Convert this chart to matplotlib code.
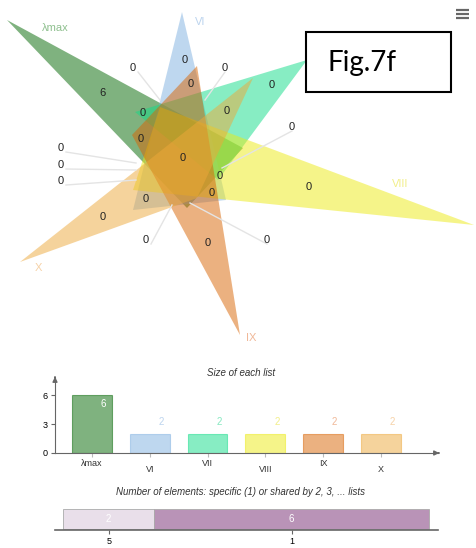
import matplotlib
matplotlib.use("Agg")
import matplotlib.pyplot as plt
from matplotlib.patches import Polygon, Rectangle

plt.rcParams["font.family"] = ["Liberation Sans", "DejaVu Sans"]

# ---- data ----
lists = ["λmax", "VI", "VII", "VIII", "IX", "X"]
list_sizes = [6, 2, 2, 2, 2, 2]
base_colors = ["#006600", "#7fb0e0", "#10dc88", "#ecea14", "#d96402", "#eda83a"]

share_degree = ["5", "1"]          # shared by 5 lists / specific to 1 list
share_counts = [2, 6]
share_colors = ["#e9dfea", "#b993b7"]

# region counts with label position and optional leader-line anchor
region_counts = [6, 0, 0, 0, 0, 0, 0, 0, 0, 0, 0, 0, 0, 0, 0, 0, 0, 0, 0, 0, 0, 0]
region_label_xy = [(102, 93), (133, 68), (185, 60), (191, 84), (225, 68), (272, 85),
                   (143, 113), (227, 111), (292, 127), (141, 139), (61, 148), (61, 165),
                   (61, 181), (183, 158), (220, 176), (212, 193), (309, 187), (146, 199),
                   (103, 217), (146, 240), (208, 243), (267, 240)]
region_leader = {1: (160, 100), 4: (205, 100), 8: (222, 168), 10: (136, 163),
                 11: (136, 170), 12: (136, 180), 19: (172, 205), 21: (190, 203)}

# triangle outlines (pixel layout of the six-set diagram)
triangles = [
    [(7, 20), (243, 148), (187, 208)],
    [(182, 12), (133, 210), (226, 200)],
    [(307, 60), (135, 112), (218, 180)],
    [(474, 225), (160, 107), (133, 190)],
    [(240, 335), (132, 135), (197, 66)],
    [(20, 262), (253, 78), (197, 198)],
]
name_xy = [(55, 28), (200, 22), (307, 60), (400, 184), (251, 338), (38, 268)]
name_colors = ["#8fc08f", "#bcd4ee", "#86e8c0", "#f2ef8a", "#f0b898", "#f6d2a8"]

W, H = 476, 548
fig = plt.figure(figsize=(W / 100, H / 100), dpi=100)
ax = fig.add_axes([0, 0, 1, 1])
ax.set_xlim(0, W)
ax.set_ylim(H, 0)
ax.axis("off")

# ---- six-set diagram ----
for tri, col in zip(triangles, base_colors):
    ax.add_patch(Polygon(tri, closed=True, facecolor=col, alpha=0.5, edgecolor="none"))

for i, (name, (x, y)) in enumerate(zip(lists, name_xy)):
    if name == "VII":
        continue
    ax.text(x, y, name, color=name_colors[i], fontsize=8, ha="center", va="center")

for i, (cnt, (x, y)) in enumerate(zip(region_counts, region_label_xy)):
    if i in region_leader:
        lx, ly = region_leader[i]
        ax.plot([x + 5 if lx > x else x, lx], [y + 4, ly], color="#e4e4e4", lw=1, zorder=1)
    ax.text(x, y, str(cnt), fontsize=8, ha="center", va="center", color="#222222", zorder=3)

# caption box
ax.add_patch(Rectangle((306, 32), 145, 60, facecolor="white", edgecolor="black", lw=1.5, zorder=4))
ax.text(327, 63, "Fig.7f", fontsize=20, ha="left", va="center", family="Lato", zorder=5)

# menu icon
for yy in (10, 14, 18):
    ax.plot([456, 469], [yy, yy], color="#666666", lw=1.6, solid_capstyle="butt")

# ---- list sizes bar chart ----
def px_axes(x0, y0, x1, y1):
    return fig.add_axes([x0 / W, 1 - y1 / H, (x1 - x0) / W, (y1 - y0) / H])

ax.text(241, 373, "Size of each list", fontsize=7, style="italic", ha="center", va="center",
        color="#333333")
bx = px_axes(55, 378, 438, 453)
pos = list(range(len(lists)))
bars = bx.bar(pos, list_sizes, width=0.69, color=base_colors, alpha=0.5,
              edgecolor=base_colors, linewidth=0.8)
bx.set_xlim(-0.64, 5.99)
bx.set_ylim(0, 7.76)
for s in ("top", "right"):
    bx.spines[s].set_visible(False)
bx.spines["left"].set_color("#666666")
bx.spines["bottom"].set_color("#666666")
bx.set_yticks([0, 3, 6])
bx.tick_params(axis="y", labelsize=6.5, length=3, color="#666666", pad=2)
bx.set_xticks(pos)
bx.set_xticklabels([])
bx.tick_params(axis="x", length=3, color="#bbbbbb")
bx.patch.set_visible(False)
for i, (p, v) in enumerate(zip(pos, list_sizes)):
    if v >= 4:
        bx.text(p + 0.2, v - 0.9, str(v), color="white", fontsize=7, ha="center", va="center")
    else:
        bx.text(p + 0.2, v + 1.2, str(v), color=name_colors[i], fontsize=7,
                ha="center", va="center")
for i, name in enumerate(lists):
    ax.text(92 + 57.8 * i, 463 if i % 2 == 0 else 470, name, fontsize=6.5, ha="center",
            va="center", color="#333333")
# axis arrows
ax.annotate("", xy=(55, 374), xytext=(55, 380),
            arrowprops=dict(arrowstyle="-|>", color="#666666", lw=1, mutation_scale=7))
ax.annotate("", xy=(442, 453), xytext=(436, 453),
            arrowprops=dict(arrowstyle="-|>", color="#666666", lw=1, mutation_scale=7))

# ---- shared-elements bar ----
ax.text(241, 492, "Number of elements: specific (1) or shared by 2, 3, ... lists", fontsize=7,
        style="italic", ha="center", va="center", color="#333333")
sx = px_axes(55, 505, 438, 530)
left = 0
for cnt, col in zip(share_counts, share_colors):
    sx.barh(0, cnt, left=left, height=0.72, color=col, edgecolor="#aaaaaa", linewidth=0.6,
            align="edge")
    sx.text(left + cnt / 2, 0.36, str(cnt), color="white", fontsize=7, ha="center", va="center")
    left += cnt
sx.set_xlim(-0.175, 8.2)
sx.set_ylim(-0.05, 0.85)
sx.set_yticks([])
for s in ("top", "right", "left"):
    sx.spines[s].set_visible(False)
sx.spines["bottom"].set_color("#666666")
sx.spines["bottom"].set_linewidth(1.2)
mids = []
acc = 0
for cnt in share_counts:
    mids.append(acc + cnt / 2)
    acc += cnt
sx.set_xticks(mids)
sx.set_xticklabels(share_degree, fontsize=6.5)
sx.tick_params(axis="x", length=3, color="#666666", pad=2)
sx.patch.set_visible(False)

fig.savefig("out.png", dpi=100)
